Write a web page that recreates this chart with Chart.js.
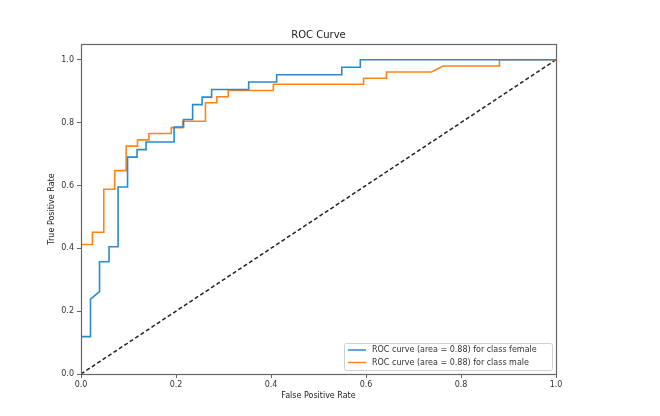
<!DOCTYPE html>
<html>
<head>
<meta charset="utf-8">
<title>ROC Curve</title>
<script src="https://cdn.jsdelivr.net/npm/chart.js@4.4.1/dist/chart.umd.min.js"></script>
<style>
  body { margin: 0; background: #fff; }
  #wrap { width: 660px; height: 416px; }
</style>
</head>
<body>
<div id="wrap"><canvas id="rocChart" width="660" height="416"></canvas></div>
<script>
// ROC points (false positive rate, true positive rate)
const femaleFpr = [0, 0, 0.020, 0.020, 0.039, 0.039, 0.059, 0.059, 0.078, 0.078, 0.098, 0.098,
    0.118, 0.118, 0.137, 0.137, 0.196, 0.196, 0.216, 0.216, 0.235, 0.235, 0.255, 0.255,
    0.275, 0.275, 0.353, 0.353, 0.412, 0.412, 0.549, 0.549, 0.588, 0.588, 1.0];
const femaleTpr = [0, 0.119, 0.119, 0.238, 0.262, 0.357, 0.357, 0.405, 0.405, 0.595, 0.595, 0.690,
    0.690, 0.714, 0.714, 0.738, 0.738, 0.786, 0.786, 0.810, 0.810, 0.857, 0.857, 0.881,
    0.881, 0.905, 0.905, 0.929, 0.929, 0.952, 0.952, 0.976, 0.976, 1.0, 1.0];

const maleFpr = [0, 0, 0.024, 0.024, 0.048, 0.048, 0.071, 0.071, 0.095, 0.095, 0.119, 0.119,
    0.143, 0.143, 0.190, 0.190, 0.214, 0.214, 0.262, 0.262, 0.286, 0.286, 0.310, 0.310,
    0.405, 0.405, 0.595, 0.595, 0.643, 0.643, 0.738, 0.762, 0.881, 0.881, 1.0];
const maleTpr = [0, 0.412, 0.412, 0.451, 0.451, 0.588, 0.588, 0.647, 0.647, 0.725, 0.725, 0.745,
    0.745, 0.765, 0.765, 0.784, 0.784, 0.804, 0.804, 0.863, 0.863, 0.882, 0.882, 0.902,
    0.902, 0.922, 0.922, 0.941, 0.941, 0.961, 0.961, 0.980, 0.980, 1.0, 1.0];

const chanceFpr = [0, 1];
const chanceTpr = [0, 1];

const seriesLabels = ['ROC curve (area = 0.88) for class female', 'ROC curve (area = 0.88) for class male'];
const seriesColors = ['#2a8acd', '#ff8416'];

const xTicks = [0.0, 0.2, 0.4, 0.6, 0.8, 1.0];
const yTicks = [0.0, 0.2, 0.4, 0.6, 0.8, 1.0];

const FONT = 'DejaVu Sans';

function toPoints(xs, ys) {
    return xs.map((x, i) => ({ x: x, y: ys[i] }));
}

// box around the axes, like matplotlib spines
const frame = {
    id: 'frame',
    afterDraw(chart) {
        const a = chart.chartArea;
        const ctx = chart.ctx;
        ctx.save();
        ctx.strokeStyle = '#666';
        ctx.lineWidth = 1.2;
        ctx.strokeRect(Math.round(a.left) + 0.5, Math.round(a.top) + 0.5,
            Math.round(a.right - a.left), Math.round(a.bottom - a.top));
        ctx.restore();
    }
};

// legend in the lower right corner of the plot
const cornerLegend = {
    id: 'cornerLegend',
    afterDraw(chart) {
        const a = chart.chartArea;
        const ctx = chart.ctx;
        const w = 208, h = 27;
        const left = a.right - 4 - w;
        const top = a.bottom - 4 - h;
        ctx.save();
        ctx.fillStyle = 'rgba(255,255,255,0.8)';
        ctx.strokeStyle = '#d0d0d0';
        ctx.lineWidth = 1;
        ctx.beginPath();
        ctx.roundRect(left + 0.5, top + 0.5, w, h, 2);
        ctx.fill();
        ctx.stroke();
        ctx.font = '8px "' + FONT + '"';
        ctx.textBaseline = 'middle';
        seriesLabels.forEach((lab, i) => {
            const y = top + 7 + i * 12.5;
            ctx.strokeStyle = seriesColors[i];
            ctx.lineWidth = 1.5;
            ctx.beginPath();
            ctx.moveTo(left + 4, y);
            ctx.lineTo(left + 22, y);
            ctx.stroke();
            ctx.fillStyle = '#333';
            ctx.fillText(lab, left + 28, y);
        });
        ctx.restore();
    }
};

const config = {
    type: 'scatter',
    data: {
        datasets: [
            {
                label: seriesLabels[0],
                data: toPoints(femaleFpr, femaleTpr),
                borderColor: seriesColors[0],
                borderWidth: 1.6,
                showLine: true,
                pointRadius: 0,
                tension: 0
            },
            {
                label: seriesLabels[1],
                data: toPoints(maleFpr, maleTpr),
                borderColor: seriesColors[1],
                borderWidth: 1.6,
                showLine: true,
                pointRadius: 0,
                tension: 0
            },
            {
                label: 'chance',
                data: toPoints(chanceFpr, chanceTpr),
                borderColor: '#222',
                borderWidth: 1.5,
                borderDash: [4, 2.5],
                showLine: true,
                pointRadius: 0
            }
        ]
    },
    options: {
        responsive: false,
        animation: false,
        layout: {
            padding: { left: 43, right: 104, top: 29, bottom: 11 }
        },
        plugins: {
            legend: { display: false },
            tooltip: { enabled: false },
            title: {
                display: true,
                text: 'ROC Curve',
                fullSize: false,
                color: '#222',
                font: { family: FONT, size: 10, weight: 'normal' },
                padding: { top: 0, bottom: 3 }
            }
        },
        scales: {
            x: {
                type: 'linear',
                min: 0,
                max: 1,
                afterBuildTicks: (scale) => { scale.ticks = xTicks.map(v => ({ value: v })); },
                afterFit: (scale) => { scale.height = 31; },
                grid: { drawOnChartArea: false, drawTicks: true, tickLength: 4, color: '#666' },
                border: { display: false },
                ticks: {
                    color: '#333',
                    padding: 2,
                    maxRotation: 0,
                    font: { family: FONT, size: 8 },
                    callback: (v) => v.toFixed(1)
                },
                title: {
                    display: true,
                    text: 'False Positive Rate',
                    color: '#222',
                    font: { family: FONT, size: 8 }
                }
            },
            y: {
                type: 'linear',
                min: 0,
                max: 1.05,
                afterBuildTicks: (scale) => { scale.ticks = yTicks.map(v => ({ value: v })); },
                afterFit: (scale) => { scale.width = 38; },
                grid: { drawOnChartArea: false, drawTicks: true, tickLength: 4, color: '#666' },
                border: { display: false },
                ticks: {
                    color: '#333',
                    padding: 3,
                    font: { family: FONT, size: 8 },
                    callback: (v) => v.toFixed(1)
                },
                title: {
                    display: true,
                    text: 'True Positive Rate',
                    color: '#222',
                    font: { family: FONT, size: 8 }
                }
            }
        }
    },
    plugins: [frame, cornerLegend]
};

const rocChart = new Chart(document.getElementById('rocChart'), config);
</script>
</body>
</html>
